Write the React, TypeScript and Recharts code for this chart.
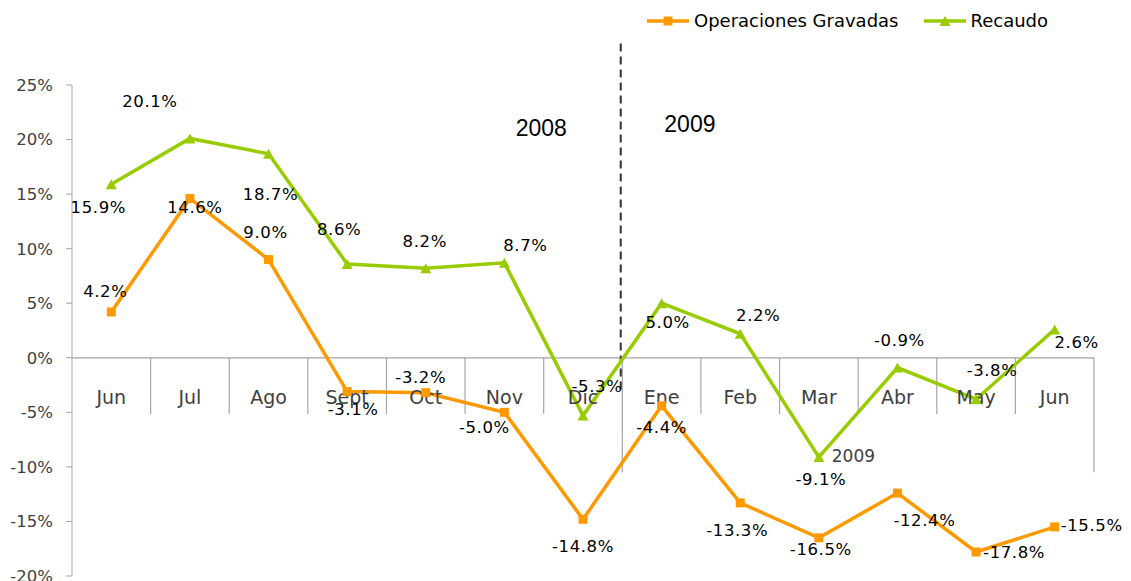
import React from "react"
import {
    LineChart, Line, XAxis, YAxis, ReferenceLine, ReferenceDot, LabelList,
} from "recharts"

const MONTHS = ["Jun", "Jul", "Ago", "Sept", "Oct", "Nov", "Dic", "Ene", "Feb", "Mar", "Abr", "May", "Jun"]
const OPERACIONES = [4.2, 14.6, 9.0, -3.1, -3.2, -5.0, -14.8, -4.4, -13.3, -16.5, -12.4, -17.8, -15.5]
const RECAUDO = [15.9, 20.1, 18.7, 8.6, 8.2, 8.7, -5.3, 5.0, 2.2, -9.1, -0.9, -3.8, 2.6]
const Y_TICKS = [-20, -15, -10, -5, 0, 5, 10, 15, 20, 25]

// label offsets in px from each point (dx, dy)
const OP_LABEL_OFFSETS = [
    [-6, -20], [5, 9], [-3, -27], [6, 18], [-5, -15], [-20, 15], [0, 27],
    [0, 22], [-3, 28], [2, 12], [27, 27], [38, 1], [37, -1],
]
const REC_LABEL_OFFSETS = [
    [-13, 23], [-40, -37], [2, 41], [-8, -34], [-1, -27], [21, -17], [14, -29],
    [6, 19], [18, -18], [2, 22], [2, -27], [16, -29], [22, 13],
]

const ORANGE = "#FF9900"
const GREEN = "#99CC00"
const GRID = "#a6a6a6"
const FONT = "'DejaVu Sans', sans-serif"

const data = MONTHS.map((m, i) => ({
    x: i + 0.5,
    name: m,
    op: OPERACIONES[i],
    rec: RECAUDO[i],
}))

const makeLabel = (offsets: number[][]) => (props: any) => {
    const vb = props.viewBox || {}
    const x = props.x ?? vb.x
    const y = props.y ?? vb.y
    const i = props.index ?? 0
    const [dx, dy] = offsets[i] || [0, 0]
    return (
        <text
            x={x + dx}
            y={y + dy}
            textAnchor="middle"
            dominantBaseline="central"
            fontFamily={FONT}
            fontSize={16.5}
            letterSpacing={0.6}
            fill="#000"
        >
            {`${Number(props.value).toFixed(1)}%`}
        </text>
    )
}

const SquareDot = (p: any) => (
    <rect key={`sq-${p.index}`} x={p.cx - 4.5} y={p.cy - 4.5} width={9} height={9} fill={ORANGE} />
)

const TriangleDot = (p: any) => (
    <polygon
        key={`tr-${p.index}`}
        points={`${p.cx},${p.cy - 5} ${p.cx + 5.5},${p.cy + 5} ${p.cx - 5.5},${p.cy + 5}`}
        fill={GREEN}
    />
)

const textShape = (text: string, size: number, color: string, family = FONT) => (p: any) => (
    <text
        x={p.cx}
        y={p.cy}
        textAnchor="middle"
        dominantBaseline="central"
        fontFamily={family}
        fontSize={size}
        fill={color}
    >
        {text}
    </text>
)

function LegendBox() {
    const item = (label: string, color: string, marker: "square" | "triangle") => (
        <div style={{ display: "flex", alignItems: "center", marginRight: 24 }}>
            <svg width={44} height={12} style={{ marginRight: 4 }}>
                <line x1={1} y1={6} x2={43} y2={6} stroke={color} strokeWidth={3.5} />
                {marker === "square"
                    ? <rect x={17.5} y={1.5} width={9} height={9} fill={color} />
                    : <polygon points="22,1 27.5,11 16.5,11" fill={color} />}
            </svg>
            <span>{label}</span>
        </div>
    )
    return (
        <div
            style={{
                position: "absolute",
                left: 646,
                top: 10,
                display: "flex",
                fontFamily: FONT,
                fontSize: 18,
                color: "#000",
            }}
        >
            {item("Operaciones Gravadas", ORANGE, "square")}
            {item("Recaudo", GREEN, "triangle")}
        </div>
    )
}

export default function App() {
    return (
        <div style={{ position: "absolute", left: 0, top: 0, width: 1131, height: 581, background: "#fff" }}>
            <LegendBox />
            <LineChart
                width={1131}
                height={581}
                data={data}
                margin={{ top: 85, right: 37, bottom: 5, left: 0 }}
            >
                <XAxis type="number" dataKey="x" domain={[0, 13]} hide />
                <YAxis
                    type="number"
                    domain={[-20, 25]}
                    ticks={Y_TICKS}
                    width={72}
                    tickFormatter={(v) => `${v}%`}
                    tick={{ fill: "#404040", fontSize: 16.5, fontFamily: FONT }}
                    axisLine={{ stroke: GRID }}
                    tickLine={{ stroke: GRID }}
                    tickSize={6}
                    tickMargin={13}
                    interval={0}
                />
                <ReferenceLine y={0} stroke={GRID} strokeWidth={1.2} />
                {MONTHS.map((_, i) => i + 1).map((i) => (
                    <ReferenceLine
                        key={`div-${i}`}
                        segment={[{ x: i, y: 0 }, { x: i, y: i === 7 || i === 13 ? -10.5 : -5.15 }]}
                        stroke={GRID}
                        strokeWidth={1.2}
                        ifOverflow="visible"
                    />
                ))}
                <ReferenceLine
                    segment={[{ x: 6.98, y: 28.8 }, { x: 6.98, y: -3.2 }]}
                    stroke="#333"
                    strokeWidth={2}
                    strokeDasharray="8 5"
                    ifOverflow="visible"
                />
                {MONTHS.map((m, i) => (
                    <ReferenceDot
                        key={`cat-${i}`}
                        x={i + 0.5}
                        y={-3.6}
                        r={0}
                        ifOverflow="visible"
                        shape={textShape(m, 19, "#404040")}
                    />
                ))}
                <ReferenceDot x={5.97} y={21.06} r={0} shape={textShape("2008", 23, "#000", "'Liberation Sans', sans-serif")} />
                <ReferenceDot x={7.86} y={21.4} r={0} shape={textShape("2009", 23, "#000", "'Liberation Sans', sans-serif")} />
                <ReferenceDot x={9.94} y={-9.0} r={0} shape={textShape("2009", 17, "#404040")} />
                <Line
                    type="linear"
                    dataKey="op"
                    stroke={ORANGE}
                    strokeWidth={3.5}
                    dot={SquareDot}
                    activeDot={false}
                    isAnimationActive={false}
                >
                    <LabelList dataKey="op" content={makeLabel(OP_LABEL_OFFSETS)} />
                </Line>
                <Line
                    type="linear"
                    dataKey="rec"
                    stroke={GREEN}
                    strokeWidth={3.5}
                    dot={TriangleDot}
                    activeDot={false}
                    isAnimationActive={false}
                >
                    <LabelList dataKey="rec" content={makeLabel(REC_LABEL_OFFSETS)} />
                </Line>
            </LineChart>
        </div>
    )
}
